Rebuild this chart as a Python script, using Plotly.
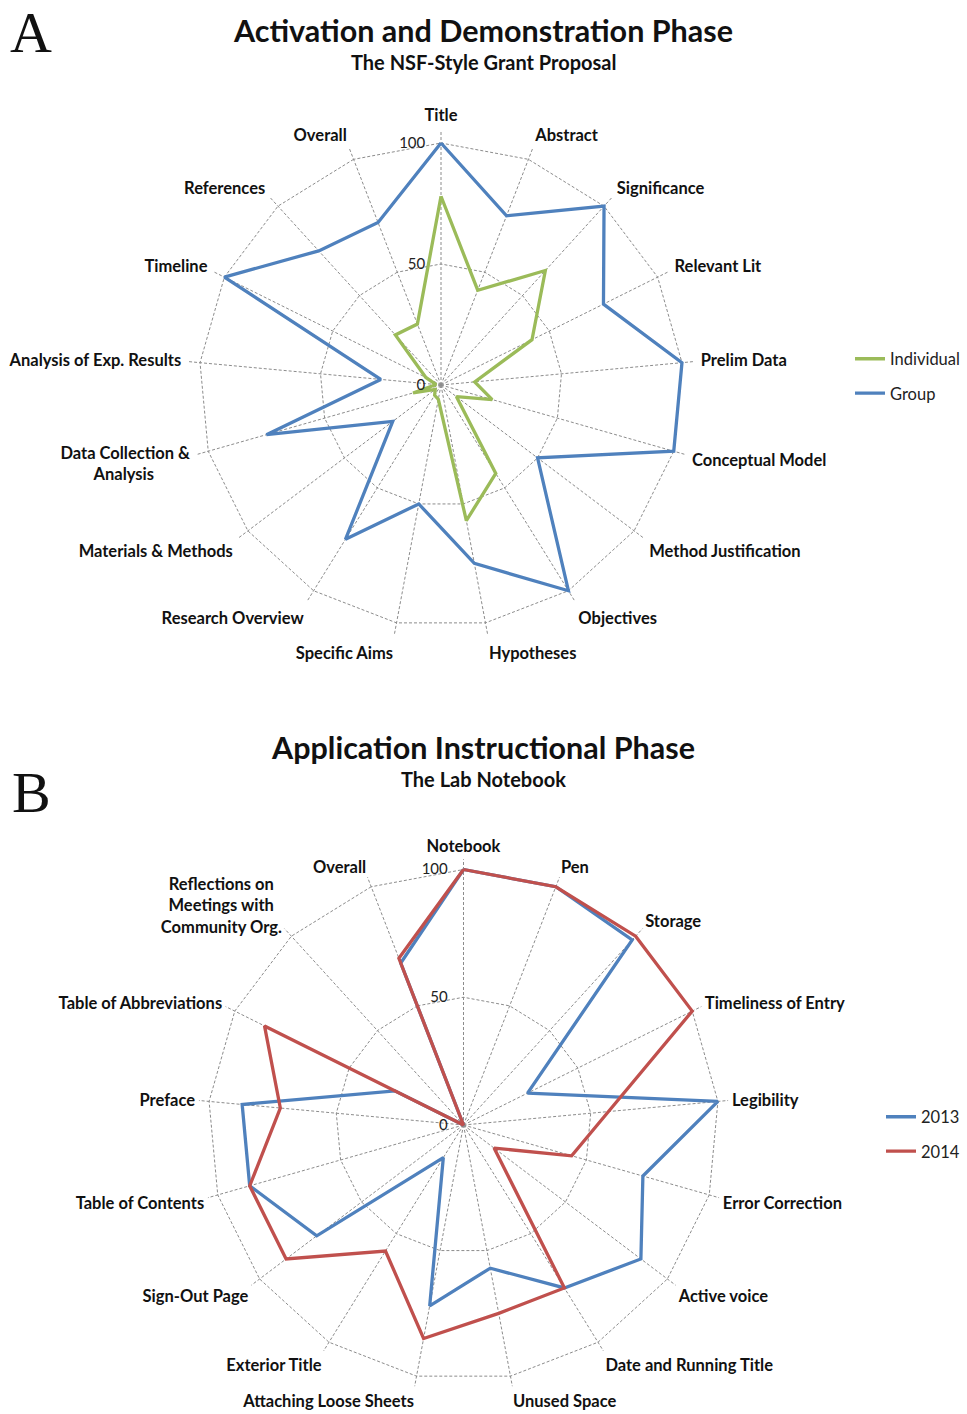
import plotly.graph_objects as go

# ---------------- Data ----------------
NB = "&nbsp;"
cats_a = ["Title", "Abstract", "Significance", "Relevant Lit", "Prelim Data",
          "Conceptual Model", "Method Justification", "Objectives", "Hypotheses",
          "Specific Aims", "Research Overview", "Materials & Methods",
          "Data Collection &<br>Analysis" + NB * 9, "Analysis of Exp. Results", "Timeline",
          "References", "Overall"]
individual = [78, 42, 64, 42, 14, 22, 8, 43, 57, 6, 5, 3, 12, 2, 7, 28, 27]
group = [100, 75, 100, 75, 100, 100, 50, 100, 75, 50, 75, 25, 75, 25, 100, 75, 72]

cats_b = ["Notebook", "Pen", "Storage", "Timeliness of Entry", "Legibility",
          "Error Correction", "Active voice", "Date and Running Title", "Unused Space",
          "Attaching Loose Sheets", "Exterior Title", "Sign-Out Page",
          "Table of Contents", "Preface", "Table of Abbreviations",
          "Reflections on" + NB * 2 + "<br>Meetings with" + NB * 2 + "<br>Community Org.",
          "Overall"]
y2013 = [100, 100, 98, 28, 100, 73, 87, 75, 57, 72, 15, 72, 87, 87, 30, 0, 68]
y2014 = [100, 100, 100, 100, 57, 44, 15, 75, 75, 85, 58, 87, 87, 72, 87, 0, 70]

radial_ticks = [0, 50, 100]

GREEN = "#9BBB59"
BLUE = "#4F81BD"
RED = "#C0504D"
FONT = "Lato"
GRID = "#8c8c8c"

W, H = 967, 1414


def closed(vals):
    return list(vals) + [vals[0]]


fig = go.Figure()
fig.add_trace(go.Scatterpolar(r=closed(individual), theta=closed(cats_a), mode="lines",
                              name="Individual", line=dict(color=GREEN, width=3.3),
                              subplot="polar", legend="legend", legendgroup="a1"))
fig.add_trace(go.Scatterpolar(r=closed(group), theta=closed(cats_a), mode="lines",
                              name="Group", line=dict(color=BLUE, width=3.3),
                              subplot="polar", legend="legend", legendgroup="a2"))
fig.add_trace(go.Scatterpolar(r=closed(y2013), theta=closed(cats_b), mode="lines",
                              name="2013", line=dict(color=BLUE, width=3.3),
                              subplot="polar2", legend="legend2", legendgroup="b1"))
fig.add_trace(go.Scatterpolar(r=closed(y2014), theta=closed(cats_b), mode="lines",
                              name="2014", line=dict(color=RED, width=3.3),
                              subplot="polar2", legend="legend2", legendgroup="b2"))


def polar_cfg(cx, cy, R, cats, ticklen, ext):
    Ro = R * ext
    x0, x1 = (cx - Ro) / W, (cx + Ro) / W
    y0, y1 = (H - cy - Ro) / H, (H - cy + Ro) / H
    return dict(
        domain=dict(x=[x0, x1], y=[y0, y1]),
        gridshape="linear",
        bgcolor="white",
        radialaxis=dict(range=[0, 100 * ext], tickvals=radial_ticks, angle=90,
                        tickangle=90, side="counterclockwise", showline=False,
                        ticks="outside", ticklen=10, tickcolor="rgba(0,0,0,0)",
                        gridcolor=GRID, griddash="3px,2px", gridwidth=1,
                        tickfont=dict(family=FONT, size=15, color="#222")),
        angularaxis=dict(type="category", categoryorder="array", categoryarray=cats,
                         rotation=90, direction="clockwise", showline=False,
                         ticks="outside", ticklen=ticklen, tickcolor="rgba(0,0,0,0)",
                         gridcolor=GRID, griddash="3px,2px", gridwidth=1,
                         tickfont=dict(family=FONT, size=16.5, color="#111",
                                       weight="bold")),
    )


fig.update_layout(
    width=W, height=H,
    margin=dict(l=0, r=0, t=0, b=0),
    paper_bgcolor="white",
    plot_bgcolor="white",
    font=dict(family=FONT, color="#111"),
    polar=polar_cfg(441, 385, 242, cats_a, 3, 1.05),
    polar2=polar_cfg(463.5, 1125, 255.5, cats_b, 0.1, 1.04),
    legend=dict(x=850 / W, y=1 - 376 / H, xanchor="left", yanchor="middle",
                font=dict(family=FONT, size=16.5, color="#222"),
                bgcolor="rgba(0,0,0,0)", itemwidth=30, tracegroupgap=10),
    legend2=dict(x=881 / W, y=1 - 1134 / H, xanchor="left", yanchor="middle",
                 font=dict(family=FONT, size=16.5, color="#222"),
                 bgcolor="rgba(0,0,0,0)", itemwidth=30, tracegroupgap=10),
    showlegend=True,
)

annotations = [
    dict(text="<b>Activation and Demonstration Phase</b>", x=483 / W, y=1 - 30 / H,
         font=dict(size=30.5, family=FONT)),
    dict(text="<b>The NSF-Style Grant Proposal</b>", x=483 / W, y=1 - 62 / H,
         font=dict(size=20, family=FONT)),
    dict(text="<b>Application Instructional Phase</b>", x=483 / W, y=1 - 747 / H,
         font=dict(size=30.5, family=FONT)),
    dict(text="<b>The Lab Notebook</b>", x=483 / W, y=1 - 779 / H,
         font=dict(size=20, family=FONT)),
    dict(text="A", x=31 / W, y=1 - 33 / H, font=dict(size=58, family="Liberation Serif")),
    dict(text="B", x=31 / W, y=1 - 792 / H, font=dict(size=58, family="Liberation Serif")),
]
for a in annotations:
    a.update(xref="paper", yref="paper", showarrow=False, xanchor="center",
             yanchor="middle")
fig.update_layout(annotations=annotations)

fig.write_html("out.html",
               config={"displayModeBar": False},
               post_script="document.body.style.margin='0';"
                           "document.body.style.overflow='hidden';")
